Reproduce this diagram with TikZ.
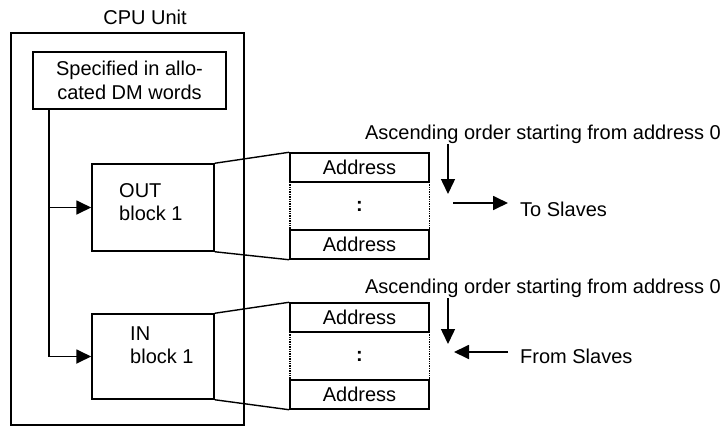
\documentclass[tikz,border=0pt]{standalone}
\usepackage{fontspec}
\setmainfont{Liberation Sans}
\usetikzlibrary{arrows.meta}
\begin{document}
\begin{tikzpicture}[x=1pt,y=-1pt,
  every node/.style={font=\fontsize{20}{23.5}\selectfont, inner sep=0pt},
  box/.style={draw, line width=1.5pt, minimum width=#1, rectangle},
  arr/.style={line width=1.8pt, -{Triangle[length=15pt,width=14pt]}},
  thin/.style={line width=1.4pt}]
\useasboundingbox (0,0) rectangle (724,429);
% CPU unit
\node[box=233pt, line width=2.2pt, minimum height=392pt] (cpu) at (127.5,229) {};
\node (cpulabel) at (145,17) {CPU Unit};
\node[box=193pt, minimum height=57pt, align=center] (spec) at (129.5,80.5) {Specified in allo-\\cated DM words};
\node[box=122pt, minimum height=87pt] (out) at (153,207.5) {};
\node[anchor=west, align=left] (outt) at (119,202) {OUT\\block 1};
\node[box=122pt, minimum height=85pt] (in) at (153,356.5) {};
\node[anchor=west, align=left] (int) at (130,345) {IN\\block 1};
\coordinate (jn) at (49,109);
\draw[arr] (jn) |- (out.west);
\draw[arr] (jn) |- (in.west);
% upper address stack
\node[box=139pt, minimum height=29pt] (a1) at (359.5,167.5) {Address};
\node[minimum width=139pt, minimum height=48pt] (m1) at (359.5,206) {\textbf{:}};
\node[box=139pt, minimum height=29pt] (a2) at (359.5,244.5) {Address};
\draw[thin, densely dotted] (m1.north west) -- (m1.south west) (m1.north east) -- (m1.south east);
\draw[thin] (out.north east) -- (a1.north west);
\draw[thin] (out.south east) -- (a2.south west);
% lower address stack
\node[box=139pt, minimum height=29pt] (b1) at (359.5,317.5) {Address};
\node[minimum width=139pt, minimum height=48pt] (m2) at (359.5,356) {\textbf{:}};
\node[box=139pt, minimum height=29pt] (b2) at (359.5,394.5) {Address};
\draw[thin, densely dotted] (m2.north west) -- (m2.south west) (m2.north east) -- (m2.south east);
\draw[thin] (in.north east) -- (b1.north west);
\draw[thin] (in.south east) -- (b2.south west);
% ascending labels and arrows
\node (asc1) at (543,134) {Ascending order starting from address 0};
\node (asc2) at (543,288) {Ascending order starting from address 0};
\coordinate (d1s) at (448,144);
\coordinate (d1e) at (448,194);
\coordinate (d2s) at (448,298);
\coordinate (d2e) at (448,344);
\draw[arr, line width=1.5pt] (d1s) -- (d1e);
\draw[arr, line width=1.5pt] (d2s) -- (d2e);
% slaves
\node[anchor=west] (ts) at (520,209) {To Slaves};
\node[anchor=west] (fs) at (520,356) {From Slaves};
\coordinate (ts1) at (453,203);
\coordinate (ts2) at (508,203);
\coordinate (fs1) at (508,352);
\coordinate (fs2) at (454,352);
\draw[arr] (ts1) -- (ts2);
\draw[arr] (fs1) -- (fs2);
\end{tikzpicture}
\end{document}
